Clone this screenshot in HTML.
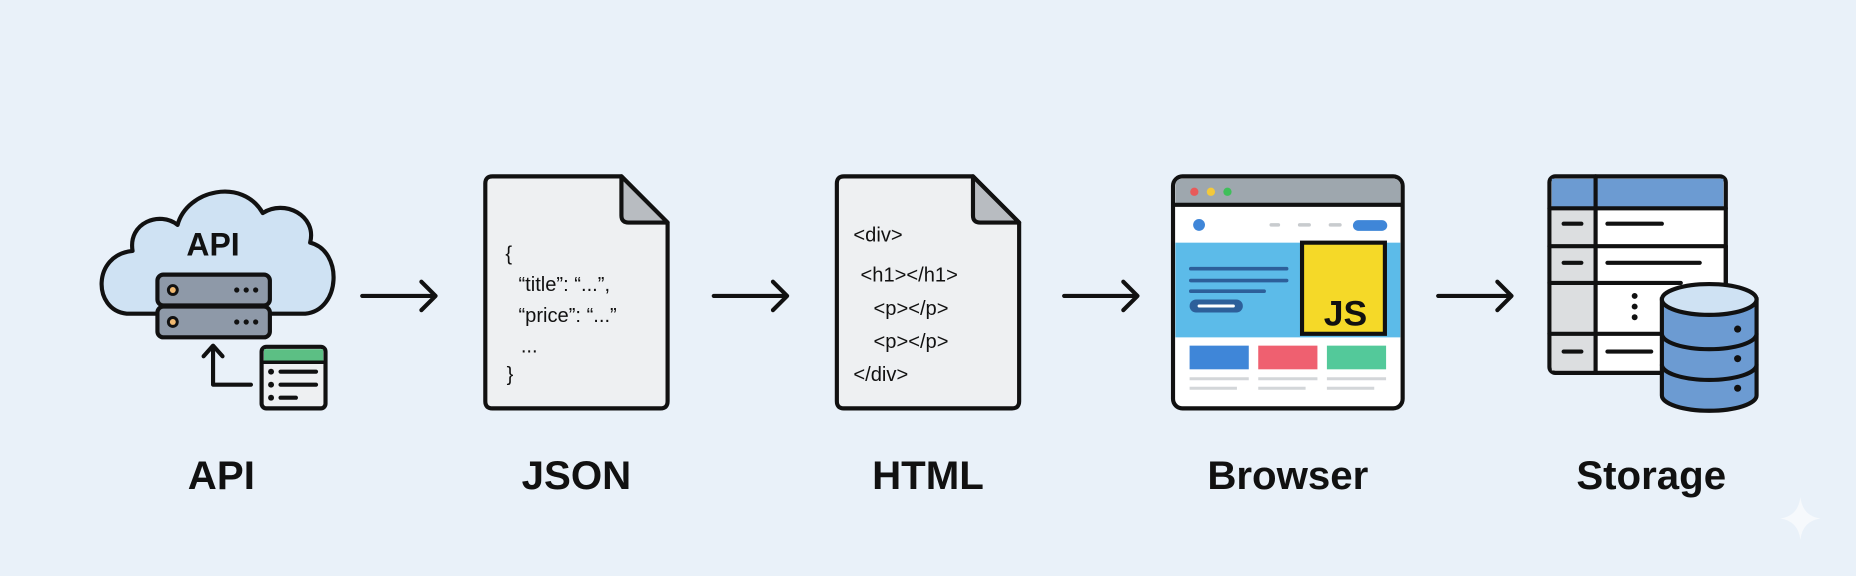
<!DOCTYPE html>
<html><head><meta charset="utf-8"><style>
html,body{margin:0;padding:0;background:#e9f1f9;}
svg{display:block}
text{font-family:"Liberation Sans",sans-serif;}
</style></head><body>
<svg width="1856" height="576" viewBox="0 0 1568 486.6" xmlns="http://www.w3.org/2000/svg">
<rect width="1568" height="487" fill="#e9f1f9"/>
<g stroke="#111" stroke-width="3.5" fill="none" stroke-linecap="round" stroke-linejoin="round">
<!-- cloud -->
<path d="M107 265 C78 262 78 215 112 212 C108 188 135 178 150 190 C158 160 205 150 222 180 C240 168 268 182 262 205 C290 212 288 262 258 265 Z" fill="#cfe2f3"/>
<!-- server -->
<rect x="133" y="232" width="95" height="26" rx="5" fill="#8e99a8"/>
<rect x="133" y="259" width="95" height="26" rx="5" fill="#8e99a8"/>
<!-- up arrow -->
<path d="M180 293 V325 H212"/>
<path d="M172 301 L180 292 L188 301"/>
<!-- table icon -->
<rect x="221" y="293" width="54" height="52" rx="4" fill="#eef0f2"/>
<!-- arrows -->
<path d="M306 250 H368 M356 238 L368 250 L356 262"/>
<path d="M603 250 H665 M653 238 L665 250 L653 262"/>
<path d="M899 250 H961 M949 238 L961 250 L949 262"/>
<path d="M1215 250 H1277 M1265 238 L1277 250 L1265 262"/>
<!-- JSON doc -->
<path d="M416 149 H525 L564 188 V339 Q564 345 558 345 H416 Q410 345 410 339 V155 Q410 149 416 149 Z" fill="#eef0f2"/>
<path d="M525 149 V182 Q525 188 531 188 H564 Z" fill="#b8bcc1"/>
<!-- HTML doc -->
<path d="M713 149 H822 L861 188 V339 Q861 345 855 345 H713 Q707 345 707 339 V155 Q707 149 713 149 Z" fill="#eef0f2"/>
<path d="M822 149 V182 Q822 188 828 188 H861 Z" fill="#b8bcc1"/>
</g>
<rect x="223" y="295" width="50" height="10" fill="#5cbf84"/>
<path d="M221 306 H275" stroke="#111" stroke-width="3"/>
<g fill="#111"><circle cx="229" cy="314" r="2.5"/><circle cx="229" cy="325" r="2.5"/><circle cx="229" cy="336" r="2.5"/></g>
<g stroke="#111" stroke-width="3.5" stroke-linecap="round"><path d="M237 314 H267 M237 325 H267 M237 336 H250"/></g>
<g fill="#111"><circle cx="146" cy="245" r="5"/><circle cx="146" cy="272" r="5"/>
<circle cx="200" cy="245" r="2.2"/><circle cx="208" cy="245" r="2.2"/><circle cx="216" cy="245" r="2.2"/>
<circle cx="200" cy="272" r="2.2"/><circle cx="208" cy="272" r="2.2"/><circle cx="216" cy="272" r="2.2"/></g>
<circle cx="146" cy="245" r="2.5" fill="#f0b870"/><circle cx="146" cy="272" r="2.5" fill="#f0b870"/>
<text x="180" y="216" font-size="27" font-weight="bold" text-anchor="middle" fill="#111">API</text>
<g font-size="17" fill="#111">
<text x="427" y="220">{</text>
<text x="438" y="246">“title”: “...”,</text>
<text x="438" y="272">“price”: “...”</text>
<text x="440" y="298">...</text>
<text x="428" y="322">}</text>
<text x="721" y="204">&lt;div&gt;</text>
<text x="727" y="238">&lt;h1&gt;&lt;/h1&gt;</text>
<text x="738" y="266">&lt;p&gt;&lt;/p&gt;</text>
<text x="738" y="294">&lt;p&gt;&lt;/p&gt;</text>
<text x="721" y="322">&lt;/div&gt;</text>
</g>
<!-- browser -->
<rect x="991" y="149" width="194" height="196" rx="8" fill="#fff" stroke="#111" stroke-width="3.5"/>
<path d="M993 172 V157 Q993 151 999 151 H1177 Q1183 151 1183 157 V172 Z" fill="#9ea7ae"/>
<path d="M991 173 H1185" stroke="#111" stroke-width="3.5"/>
<circle cx="1009" cy="162" r="3.5" fill="#e85a5a"/><circle cx="1023" cy="162" r="3.5" fill="#f3c93b"/><circle cx="1037" cy="162" r="3.5" fill="#3fbf5a"/>
<circle cx="1013" cy="190" r="5" fill="#3f86d8"/>
<g stroke="#c8cbce" stroke-width="3" stroke-linecap="round"><path d="M1074 190 H1080 M1098 190 H1106 M1124 190 H1132"/></g>
<rect x="1143" y="186" width="29" height="9" rx="4.5" fill="#3f86d8"/>
<rect x="993" y="205" width="190" height="80" fill="#5cbbe9"/>
<g stroke="#2d5f9a" stroke-width="3" stroke-linecap="round"><path d="M1006 227 H1087 M1006 237 H1087 M1006 246 H1068"/></g>
<rect x="1005" y="253" width="45" height="11" rx="5.5" fill="#2d5f9a"/>
<path d="M1013 258.5 H1042" stroke="#fff" stroke-width="2.5" stroke-linecap="round"/>
<rect x="1100" y="205" width="70" height="77" fill="#f5d928" stroke="#111" stroke-width="3.5"/>
<text x="1155" y="275" font-size="30" font-weight="bold" text-anchor="end" fill="#111">JS</text>
<rect x="1005" y="292" width="50" height="20" fill="#3f86d8"/>
<rect x="1063" y="292" width="50" height="20" fill="#ef6070"/>
<rect x="1121" y="292" width="50" height="20" fill="#53c99a"/>
<g stroke="#d3d6d9" stroke-width="2.5"><path d="M1005 320 H1055 M1005 328 H1045 M1063 320 H1113 M1063 328 H1103 M1121 320 H1171 M1121 328 H1161"/></g>
<!-- storage table -->
<rect x="1309" y="149" width="149" height="166" rx="5" fill="#fff" stroke="#111" stroke-width="3.5"/>
<rect x="1311" y="151" width="145" height="24" fill="#6c9bd2"/>
<rect x="1311" y="176" width="37" height="137" fill="#dcdee0"/>
<g stroke="#111" stroke-width="3.5" stroke-linecap="round">
<path d="M1309 176 H1458 M1309 208 H1458 M1309 239 H1420 M1309 282 H1410 M1348 149 V315"/>
<path d="M1321 189 H1336 M1358 189 H1404 M1321 222 H1336 M1358 222 H1436 M1321 297 H1336 M1358 297 H1395"/>
<path d="M1458 208 V262"/>
</g>
<g fill="#111"><circle cx="1381" cy="250" r="2.5"/><circle cx="1381" cy="259" r="2.5"/><circle cx="1381" cy="268" r="2.5"/></g>
<!-- cylinder -->
<path d="M1404 253 V334 A40 13 0 0 0 1484 334 V253 Z" fill="#6c9bd2" stroke="#111" stroke-width="3.5"/>
<ellipse cx="1444" cy="253" rx="40" ry="13" fill="#cfe2f3" stroke="#111" stroke-width="3.5"/>
<path d="M1404 282 A40 13 0 0 0 1484 282 M1404 308 A40 13 0 0 0 1484 308" fill="none" stroke="#111" stroke-width="3.5"/>
<g fill="#111"><circle cx="1468" cy="278" r="3"/><circle cx="1468" cy="303" r="3"/><circle cx="1468" cy="328" r="3"/></g>
<!-- labels -->
<g font-size="34" font-weight="bold" fill="#111" text-anchor="middle">
<text x="187" y="413">API</text>
<text x="487" y="413">JSON</text>
<text x="784" y="413">HTML</text>
<text x="1088" y="413">Browser</text>
<text x="1395" y="413">Storage</text>
</g>
<path d="M1521 420 Q1523 436 1538 438 Q1523 440 1521 456 Q1519 440 1504 438 Q1519 436 1521 420 Z" fill="#f6f9fc"/>
</svg>
</body></html>
